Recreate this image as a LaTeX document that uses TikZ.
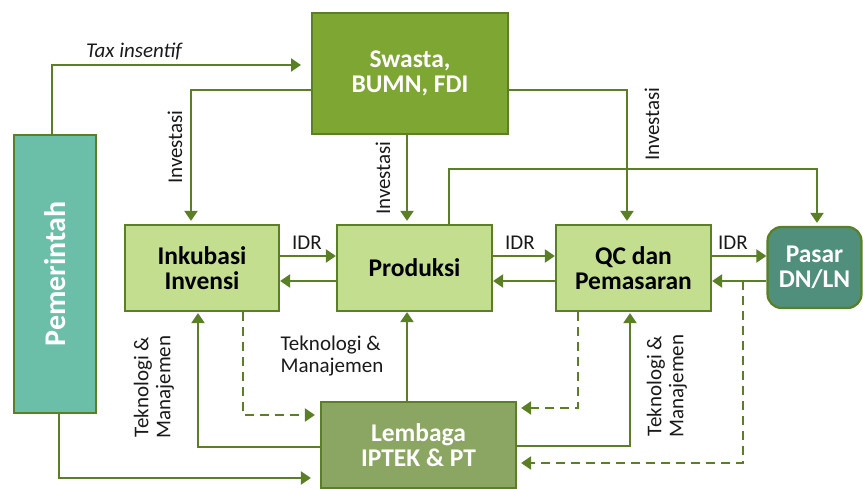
\documentclass[tikz,border=0pt]{standalone}
\usepackage{fontspec}
\setmainfont{Carlito}
\usetikzlibrary{arrows.meta,calc}
\definecolor{lineg}{HTML}{5B7F24}
\definecolor{swafill}{HTML}{7EA632}
\definecolor{lightfill}{HTML}{C3DE8F}
\definecolor{lemfill}{HTML}{8BA662}
\definecolor{pemfill}{HTML}{6BBFA8}
\definecolor{pasfill}{HTML}{4F8F7B}
\definecolor{labtext}{HTML}{1A1A1A}
\begin{document}
\begin{tikzpicture}[x=1pt,y=-1pt,
  box/.style={draw=lineg,line width=2.2pt,inner sep=0pt,align=center,
    font=\fontsize{25.5}{25.5}\selectfont\bfseries},
  lightbox/.style={box,fill=lightfill,text=black},
  arr/.style={draw=lineg,line width=2.2pt,-{Triangle[length=10pt,width=13pt]}},
  dsh/.style={arr,dash pattern=on 9pt off 6pt},
  lab/.style={text=labtext,font=\fontsize{21}{22}\selectfont,inner sep=0pt,align=center}]
\useasboundingbox (0,0) rectangle (863,489);

% boxes
\node[box,fill=pemfill,text=white,minimum width=82pt,minimum height=278pt] (pem) at (55,274)
  {\rotatebox{90}{\fontsize{30}{32}\selectfont\bfseries Pemerintah}};
\node[box,fill=swafill,text=white,minimum width=196pt,minimum height=121pt] (swa) at (410,73.5) {Swasta,\\BUMN, FDI};
\node[lightbox,minimum width=154pt,minimum height=86pt] (ink) at (202,268) {Inkubasi\\Invensi};
\node[lightbox,minimum width=155pt,minimum height=86pt] (pro) at (414.5,268) {Produksi};
\node[lightbox,minimum width=155pt,minimum height=86pt] (qc) at (633.5,268) {QC dan\\Pemasaran};
\node[box,fill=pasfill,text=white,rounded corners=14pt,minimum width=94pt,minimum height=81pt] (pas) at (814.5,267.5) {Pasar\\DN/LN};
\node[box,fill=lemfill,text=white,minimum width=195pt,minimum height=86pt] (lem) at (418.5,445) {Lembaga\\IPTEK \& PT};

% Pemerintah -> Swasta (tax incentive)
\coordinate (taxtip) at (301,65);
\draw[arr] ([xshift=-3pt]pem.north) |- (taxtip);
\node[lab,font=\fontsize{21}{22}\selectfont\itshape] (taxl) at (134,51) {Tax insentif};

% Swasta investments
\draw[arr,shorten >=3pt] ([yshift=-16.5pt]swa.west) -| ([xshift=-11pt]ink.north);
\draw[arr,shorten >=3pt] ([xshift=-3pt]swa.south) -- ([xshift=-3pt]swa.south |- pro.north);
\draw[arr,shorten >=3pt] ([yshift=-16.5pt]swa.east) -| ([xshift=-6.5pt]qc.north);
\node[lab,rotate=90] (inv1) at (175,147) {Investasi};
\node[lab,rotate=90] (inv2) at (383,178) {Investasi};
\node[lab,rotate=90] (inv3) at (652,124) {Investasi};

% Produksi -> Pasar (top)
\draw[arr,shorten >=3pt] ([xshift=34.5pt]pro.north) -- ++(0,-55) -| ([xshift=2.5pt]pas.north);

% IDR flows
\draw[arr] ([yshift=12pt]ink.east) -- ([yshift=12pt]pro.west);
\draw[arr] ([yshift=-13pt]pro.west) -- ([yshift=-13pt]ink.east);
\draw[arr] ([yshift=12pt]pro.east) -- ([yshift=12pt]qc.west);
\draw[arr] ([yshift=-13pt]qc.west) -- ([yshift=-13pt]pro.east);
\draw[arr] ([yshift=12pt]qc.east) -- ([yshift=12pt]qc.east -| pas.west);
\draw[arr] ([yshift=-13pt]qc.east -| pas.west) -- ([yshift=-13pt]qc.east);
\node[lab] (idr1) at (307,243) {IDR};
\node[lab] (idr2) at (520,243) {IDR};
\node[lab] (idr3) at (733,243) {IDR};

% Lembaga links
\draw[arr] ([xshift=-11.5pt]lem.north) -- ([xshift=-11.5pt]lem.north |- pro.south);
\draw[arr,shorten >=1pt] ([yshift=-2pt]lem.west) -| ([xshift=-4pt]ink.south);
\draw[dsh,shorten >=5pt] ([xshift=41pt]ink.south) |- ([yshift=30pt]lem.west);
\draw[arr,shorten >=9pt] ([xshift=4pt]pem.south) |- ([yshift=-33pt]lem.west);
\draw[arr,shorten >=1pt] ([yshift=-1pt]lem.east) -| ([xshift=-3.5pt]qc.south);
\draw[dsh,shorten >=4pt] ([xshift=-55.5pt]qc.south) |- ([yshift=37pt]lem.east);
\coordinate (brk) at (743,281);
\draw[dsh,shorten >=4pt] (brk) |- ([yshift=-18pt]lem.east);

\node[lab,rotate=90] (tm1) at (154,387) {Teknologi \&\\Manajemen};
\node[lab,align=left] (tm2) at (332,356) {Teknologi \&\\Manajemen};
\node[lab,rotate=90] (tm3) at (667,386) {Teknologi \&\\Manajemen};
\end{tikzpicture}
\end{document}
